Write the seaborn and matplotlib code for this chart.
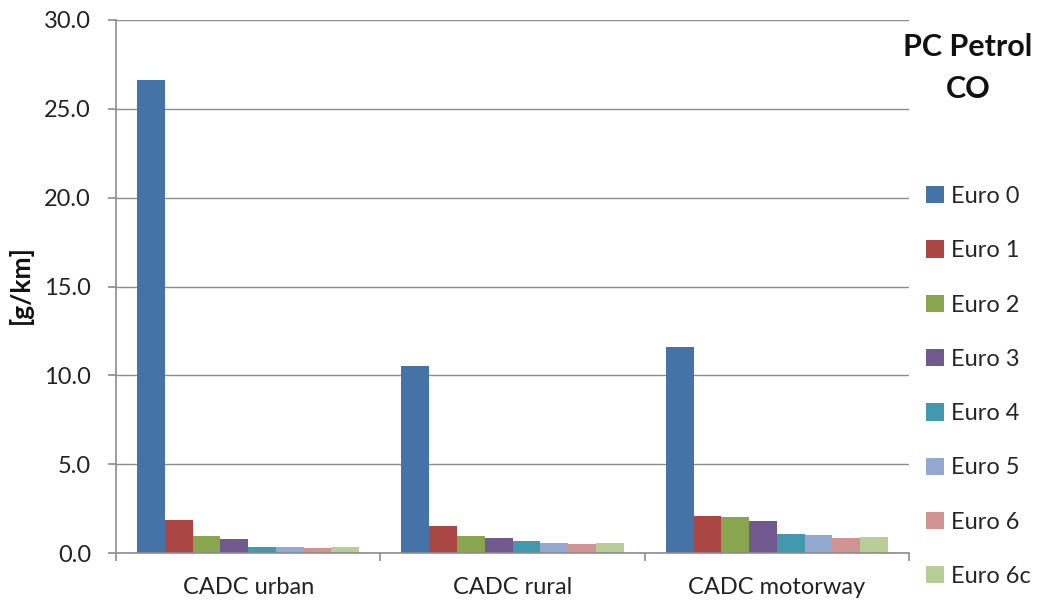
import matplotlib
matplotlib.use("Agg")
import matplotlib.pyplot as plt
import seaborn as sns
import pandas as pd
from matplotlib.ticker import FormatStrFormatter, FixedLocator

categories = ["CADC urban", "CADC rural", "CADC motorway"]
series = ["Euro 0", "Euro 1", "Euro 2", "Euro 3", "Euro 4", "Euro 5", "Euro 6", "Euro 6c"]
euro0 = [26.65, 10.5, 11.6]
euro1 = [1.85, 1.53, 2.09]
euro2 = [0.95, 0.95, 2.01]
euro3 = [0.78, 0.86, 1.79]
euro4 = [0.35, 0.65, 1.07]
euro5 = [0.35, 0.58, 1.0]
euro6 = [0.28, 0.50, 0.85]
euro6c = [0.35, 0.58, 0.92]
colors = ["#4572A7", "#AA4643", "#89A54E", "#71588F", "#4198AF", "#93A9D1", "#D19392", "#B9CD96"]
title_text = "PC Petrol\nCO"
ylabel = "[g/km]"

values = [euro0, euro1, euro2, euro3, euro4, euro5, euro6, euro6c]
rows = []
for s, vals in zip(series, values):
    for c, v in zip(categories, vals):
        rows.append({"cat": c, "series": s, "val": v})
df = pd.DataFrame(rows)

sns.set_theme(style="white")
plt.rcParams['font.family'] = ['Lato', 'DejaVu Sans']

fig = plt.figure(figsize=(10.43, 6.03), dpi=100)
ax = fig.add_axes([116/1043, 50/603, (909-116)/1043, (553-20)/603])

sns.barplot(data=df, x="cat", y="val", hue="series", order=categories, hue_order=series,
            palette=colors, width=0.84, saturation=1, ax=ax, linewidth=0, errorbar=None)

ax.set_ylim(0, 30)
ax.set_xlim(-0.5, 2.5)
ax.set_yticks([0, 5, 10, 15, 20, 25, 30])
ax.yaxis.set_major_formatter(FormatStrFormatter("%.1f"))
ax.yaxis.grid(True, color="#8c8c8c", linewidth=1)
ax.set_axisbelow(True)
for sp in ["top", "right"]:
    ax.spines[sp].set_visible(False)
for sp in ["left", "bottom"]:
    ax.spines[sp].set_color("#8c8c8c")
    ax.spines[sp].set_linewidth(1.2)
ax.tick_params(axis="y", which="major", length=6, width=1.2, color="#8c8c8c", left=True,
               labelsize=17, labelcolor="#222222", pad=12)
ax.tick_params(axis="x", which="major", length=0, labelsize=17, labelcolor="#222222", pad=17)
ax.xaxis.set_minor_locator(FixedLocator([-0.5, 0.5, 1.5, 2.5]))
ax.tick_params(axis="x", which="minor", length=6, width=1.2, color="#8c8c8c", bottom=True)
ax.set_xlabel("")
ax.set_ylabel("")
fig.text(20/1043, 1 - 285/603, ylabel, rotation=90, ha="center", va="center",
         fontsize=19, fontweight="bold", color="#111111")

handles, labels = ax.get_legend_handles_labels()
ax.legend(handles, labels, loc="upper left", bbox_to_anchor=(926/1043, 1 - 186/603),
          bbox_transform=fig.transFigure, frameon=False, fontsize=17,
          handlelength=0.75, handleheight=0.75, handletextpad=0.3, labelspacing=1.41,
          borderaxespad=0, borderpad=0)

fig.text(968/1043, 1 - 68/603, title_text, ha="center", va="center", fontsize=22,
         fontweight="bold", color="#111111", linespacing=1.6)

fig.savefig("out.png", dpi=100)
